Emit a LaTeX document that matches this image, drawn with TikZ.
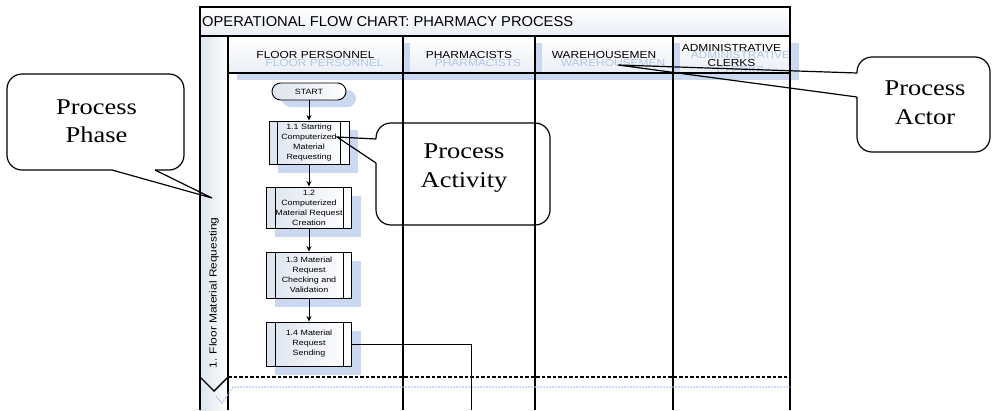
\documentclass[tikz,border=0pt]{standalone}
\usepackage{fontspec}
\setmainfont{Liberation Sans}[FakeStretch=1.17]
\newfontfamily\titlefont{Liberation Sans}[FakeStretch=1.03]
\newfontfamily\calloutfont{Liberation Serif}[FakeStretch=1.17]
\usetikzlibrary{arrows.meta}
\pgfdeclarelayer{bg}
\pgfsetlayers{bg,main}
\definecolor{shd}{RGB}{203,216,240}
\definecolor{ghost}{RGB}{178,198,230}
\definecolor{boxl}{RGB}{222,228,238}
\definecolor{hdrl}{RGB}{234,238,245}
\definecolor{dotb}{RGB}{165,188,230}
\begin{document}
\begin{tikzpicture}[x=1pt,y=-1pt,
  lane/.style={line width=1.7pt},
  proc/.style={draw, line width=0.9pt, rectangle, minimum width=85pt, minimum height=44pt,
    inner sep=0pt, left color=boxl, right color=white, align=center,
    font=\fontsize{7.6}{10}\selectfont},
  term/.style={draw, line width=0.9pt, rectangle, rounded corners=8.5pt, minimum width=74pt,
    minimum height=17pt, inner sep=0pt, left color=boxl, right color=white,
    font=\fontsize{7.6}{9}\selectfont},
  hcell/.style={rectangle, minimum height=37pt, inner sep=0pt, top color=white, bottom color=hdrl},
  htext/.style={align=center, font=\fontsize{10.2}{14.5}\selectfont},
  gtext/.style={htext, text=ghost},
  arr/.style={line width=0.8pt, -{Stealth[length=5.5pt,width=5pt]}},
  callout/.style={line width=1.2pt, rounded corners=15pt},
  pointer/.style={line width=1.2pt, line join=miter},
  ctext/.style={align=center, font=\calloutfont\fontsize{22.6}{28.5}\selectfont}
]
\useasboundingbox (0,0) rectangle (992,410);
\begin{pgfonlayer}{bg}
  \fill[white] (0,0) rectangle (992,410);
\end{pgfonlayer}

% title bar
\draw[line width=1.2pt, top color=white, bottom color=hdrl] (200,7) rectangle (790,36);
\node[anchor=west, font=\titlefont\fontsize{14.3}{16}\selectfont, inner sep=0pt] (title) at (202,22)
  {OPERATIONAL FLOW CHART: PHARMACY PROCESS};

% phase column
\fill[left color=boxl, right color=white] (200,36) rectangle (228,410);

% header cells
\node[hcell, minimum width=175pt] (hFP) at (315.5,54.5) {};
\node[hcell, minimum width=132pt] (hPH) at (469,54.5) {};
\node[hcell, minimum width=138pt] (hWH) at (604,54.5) {};
\node[hcell, minimum width=117pt] (hAD) at (731.5,54.5) {};

% header shadows
\fill[shd] (237,73) rectangle (799,80);
\fill[shd] (403,43) rectangle (410,73);
\fill[shd] (535,43) rectangle (542,73);
\fill[shd] (673,43) rectangle (680,73);
\fill[shd] (790,43) rectangle (799,73);

% ghost texts
\node[gtext] at ([shift={(9,8)}]hFP.center) {FLOOR PERSONNEL};
\node[gtext] at ([shift={(9,8)}]hPH.center) {PHARMACISTS};
\node[gtext] at ([shift={(9,8)}]hWH.center) {WAREHOUSEMEN};
\node[gtext] at ([shift={(9,8)}]hAD.center) {ADMINISTRATIVE\\CLERKS};

% header texts
\node[htext] (tFP) at (hFP.center) {FLOOR PERSONNEL};
\node[htext] (tPH) at (hPH.center) {PHARMACISTS};
\node[htext] (tWH) at (hWH.center) {WAREHOUSEMEN};
\node[htext] (tAD) at ([yshift=-1]hAD.center) {ADMINISTRATIVE\\CLERKS};

% lane lines
\draw[lane] (200,7) -- (200,410);
\draw[lane] (228,36) -- (228,410);
\draw[lane] (403,36) -- (403,410);
\draw[lane] (535,36) -- (535,410);
\draw[lane] (673,36) -- (673,410);
\draw[lane] (790,7) -- (790,410);
\draw[lane] (200,36) -- (790,36);
\draw[lane] (228,73) -- (790,73);

% phase boundary
\draw[dotb, line width=1.2pt, dash pattern=on 1.5pt off 1.5pt] (216,396) -- (222,403) -- (233,387) -- (790,387);
\draw[line width=1.4pt, dash pattern=on 3.5pt off 2pt] (228,377) -- (790,377);
\draw[line width=1.4pt] (200,377) -- (214,391) -- (228,377);
\node[rotate=90, font=\fontsize{10.2}{12}\selectfont] (phase) at (214,293) {1. Floor Material Requesting};

% process boxes
\node[term, draw=none, left color=shd, right color=shd] (startsh) at (319,98.5) {};
\node[term] (start) at (309,91.5) {START};
\node[proc, minimum width=80pt, minimum height=43pt] (b11) at (309,142.5) {1.1 Starting\\Computerized\\Material\\Requesting};
\node[proc, minimum height=41pt] (b12) at (309,207.5) {1.2\\Computerized\\Material Request\\Creation};
\node[proc, minimum height=46pt] (b13) at (309,275) {1.3 Material\\Request\\Checking and\\Validation};
\node[proc, minimum height=44pt] (b14) at (309,344) {1.4 Material\\Request\\Sending};

\begin{pgfonlayer}{bg}
  \foreach \n in {b11,b12,b13,b14}{
    \fill[shd] ([shift={(9,9)}]\n.north west) rectangle ([shift={(9,9)}]\n.south east);
  }
\end{pgfonlayer}
\foreach \n in {b11,b12,b13,b14}{
  \draw[line width=0.8pt] ([xshift=9pt]\n.north west) -- ([xshift=9pt]\n.south west);
  \draw[line width=0.8pt] ([xshift=-9pt]\n.north east) -- ([xshift=-9pt]\n.south east);
}

\draw[arr] (start) -- (b11);
\draw[arr] (b11) -- (b12);
\draw[arr] (b12) -- (b13);
\draw[arr] (b13) -- (b14);

\coordinate (c1) at (471,344);
\coordinate (c2) at (471,410);
\draw[line width=0.8pt] (b14.east) -- (c1) -- (c2);

% callout: Process Phase
\coordinate (ph1) at (112,170);
\coordinate (ph2) at (155,170);
\coordinate (phtip) at (212,198);
\draw[callout] (ph2) -- (184,170) -- (184,74) -- (7,74) -- (7,170) -- (ph1);
\draw[pointer] (ph1) -- (phtip) -- (ph2);
\node[ctext] (cphase) at (96.5,121) {Process\\Phase};

% callout: Process Activity
\coordinate (pa1) at (376,139);
\coordinate (pa2) at (376,163);
\coordinate (patip) at (337,137);
\draw[callout] (pa2) -- (376,225) -- (550,225) -- (550,123) -- (376,123) -- (pa1);
\draw[pointer] (pa1) -- (patip) -- (pa2);
\node[ctext] (cact) at (464,168) {Process\\Activity};

% callout: Process Actor
\coordinate (pc1) at (857,73);
\coordinate (pc2) at (857,97);
\coordinate (pctip) at (618,65);
\draw[callout] (pc2) -- (857,152) -- (990,152) -- (990,57) -- (857,57) -- (pc1);
\draw[pointer] (pc1) -- (pctip) -- (pc2);
\node[ctext] (cactor) at (925,102.5) {Process\\Actor};
\end{tikzpicture}
\end{document}
